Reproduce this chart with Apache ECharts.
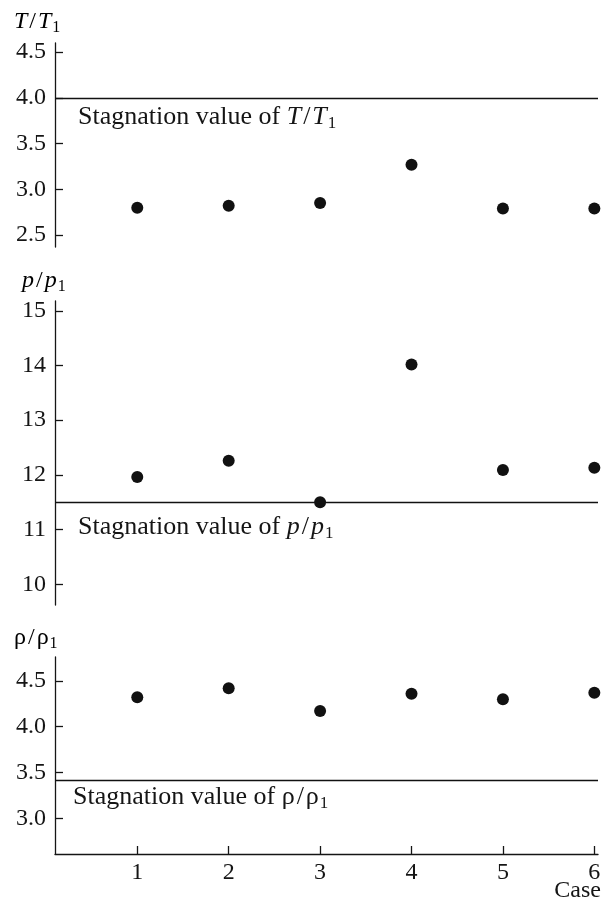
<!DOCTYPE html>
<html>
<head>
<meta charset="utf-8">
<script src="https://cdn.jsdelivr.net/npm/echarts@6/dist/echarts.min.js"></script>
<style>
html,body{margin:0;padding:0;background:#fff;}
#chart{width:604px;height:905px;}
</style>
</head>
<body>
<div id="chart"></div>
<script>
// ---- data ----
var cases = [1, 2, 3, 4, 5, 6];
var tempRatio = [2.80, 2.82, 2.85, 3.27, 2.79, 2.79];
var pressureRatio = [11.96, 12.26, 11.50, 14.02, 12.09, 12.13];
var densityRatio = [4.32, 4.42, 4.17, 4.36, 4.30, 4.37];
var stagTemp = 4.0;
var stagPressure = 11.5;
var stagDensity = 3.42;
var tTicks = [2.5, 3.0, 3.5, 4.0, 4.5];
var pTicks = [10, 11, 12, 13, 14, 15];
var rhoTicks = [3.0, 3.5, 4.0, 4.5];
var caseTicks = [1, 2, 3, 4, 5, 6];

var FONT = "'Liberation Serif','Times New Roman',serif";
var INK = '#151515';
var FS = 24;
function richSet(fs, sub, subPad) {
  return {
    n: {fontFamily: FONT, fontSize: fs, color: INK},
    sl: {fontFamily: FONT, fontSize: fs, color: INK, padding: [0, 2, 0, 2]},
    i: {fontFamily: FONT, fontSize: fs, color: INK, fontStyle: 'italic'},
    s: {fontFamily: FONT, fontSize: sub, color: INK, verticalAlign: 'top', padding: [subPad, 0, 0, 1]}
  };
}
var richTitle = richSet(FS, 16, 12);
var richStag = richSet(26, 17, 13);

function pairs(ys) { return cases.map(function (c, k) { return [c, ys[k]]; }); }

function xAxisCfg(idx, shown) {
  return {
    gridIndex: idx, type: 'value', min: 0.1, max: 6.04,
    axisLine: {show: shown, onZero: false, lineStyle: {color: INK, width: 1.3}},
    axisTick: {show: shown, inside: true, length: 8, customValues: caseTicks, lineStyle: {color: INK, width: 1.3}},
    axisLabel: {show: shown, customValues: caseTicks, fontFamily: FONT, fontSize: FS, color: INK, margin: 7},
    splitLine: {show: false}
  };
}
function yAxisCfg(idx, min, max, ticks, dec) {
  return {
    gridIndex: idx, type: 'value', min: min, max: max,
    axisLine: {show: true, onZero: false, lineStyle: {color: INK, width: 1.3}},
    axisTick: {show: true, inside: true, length: 8, customValues: ticks, lineStyle: {color: INK, width: 1.3}},
    axisLabel: {customValues: ticks, fontFamily: FONT, fontSize: FS, color: INK, margin: 9,
      formatter: function (v) { return dec ? v.toFixed(1) : String(Math.round(v)); }},
    splitLine: {show: false}
  };
}
function scatterCfg(idx, ys, stag, labelText, dist) {
  return {
    type: 'scatter', xAxisIndex: idx, yAxisIndex: idx, data: pairs(ys),
    symbol: 'circle', symbolSize: 12, itemStyle: {color: '#111', opacity: 1},
    markLine: {
      silent: true, symbol: 'none', animation: false,
      lineStyle: {type: 'solid', color: '#111', width: 1.4},
      label: {show: true, position: 'insideStartBottom', formatter: labelText,
        distance: dist, rich: richStag, fontFamily: FONT, fontSize: 26, color: INK},
      data: [{yAxis: stag}]
    }
  };
}

var chart = echarts.init(document.getElementById('chart'), null, {renderer: 'canvas'});
chart.setOption({
  animation: false,
  backgroundColor: '#fff',
  grid: [
    {left: 55, width: 543, top: 43, height: 204},
    {left: 55, width: 543, top: 301, height: 304},
    {left: 55, width: 543, top: 657, height: 197}
  ],
  xAxis: [xAxisCfg(0, false), xAxisCfg(1, false), xAxisCfg(2, true)],
  yAxis: [
    yAxisCfg(0, 2.37, 4.6, tTicks, true),
    yAxisCfg(1, 9.62, 15.18, pTicks, false),
    yAxisCfg(2, 2.61, 4.76, rhoTicks, true)
  ],
  series: [
    scatterCfg(0, tempRatio, stagTemp, '{n|Stagnation value of }{i|T}{sl|/}{i|T}{s|1}', [23, 4]),
    scatterCfg(1, pressureRatio, stagPressure, '{n|Stagnation value of }{i|p}{sl|/}{i|p}{s|1}', [23, 10]),
    scatterCfg(2, densityRatio, stagDensity, '{n|Stagnation value of ρ}{sl|/}{n|ρ}{s|1}', [18, 2])
  ],
  graphic: [
    {type: 'text', x: 14, y: 8, style: {text: '{i|T}{sl|/}{i|T}{s|1}', rich: richTitle}},
    {type: 'text', x: 22, y: 267, style: {text: '{i|p}{sl|/}{i|p}{s|1}', rich: richTitle}},
    {type: 'text', x: 14, y: 624, style: {text: '{n|ρ}{sl|/}{n|ρ}{s|1}', rich: richTitle}},
    {type: 'text', x: 601, y: 879, style: {text: 'Case', fontFamily: FONT, fontSize: FS, fill: INK, textAlign: 'right'}}
  ]
});
</script>
</body>
</html>
